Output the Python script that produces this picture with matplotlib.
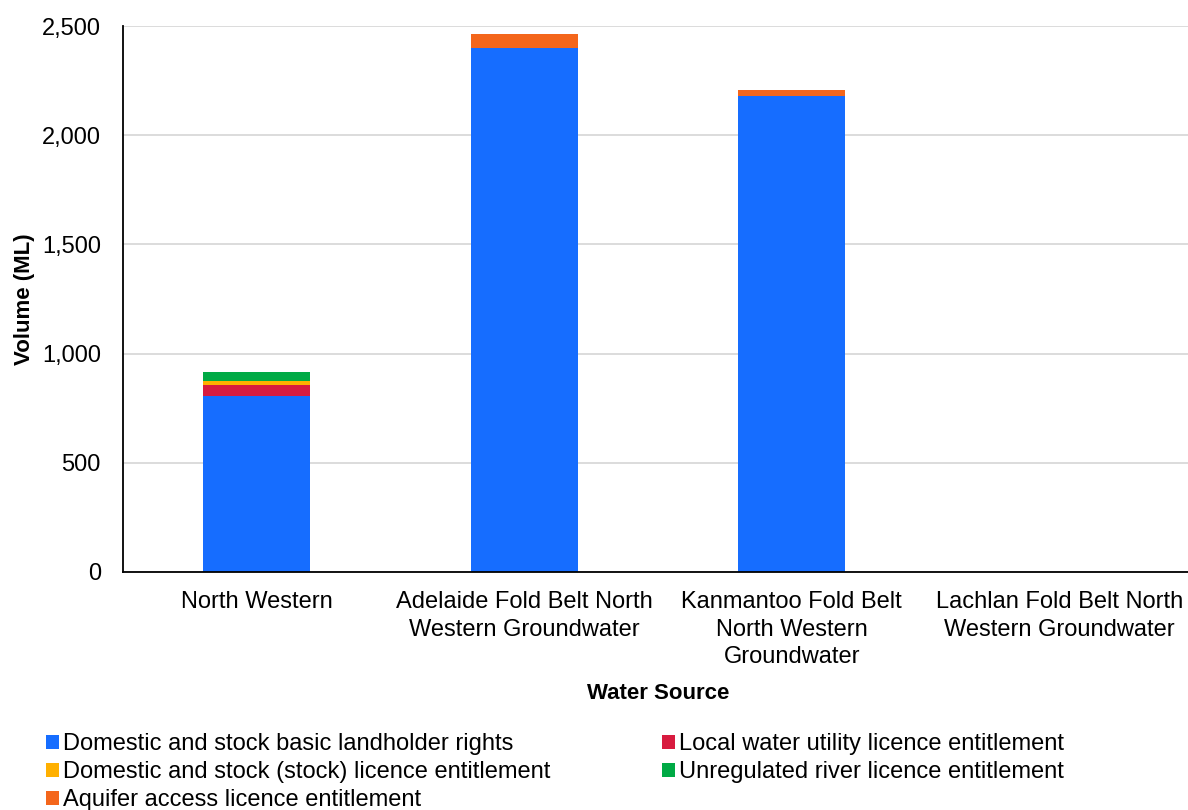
import matplotlib.pyplot as plt
import numpy as np
from matplotlib.ticker import FuncFormatter

plt.rcParams["font.family"] = ["Liberation Sans", "DejaVu Sans"]

categories = ["North Western",
              "Adelaide Fold Belt North\nWestern Groundwater",
              "Kanmantoo Fold Belt\nNorth Western\nGroundwater",
              "Lachlan Fold Belt North\nWestern Groundwater"]
series_names = ["Domestic and stock basic landholder rights",
                "Local water utility licence entitlement",
                "Domestic and stock (stock) licence entitlement",
                "Unregulated river licence entitlement",
                "Aquifer access licence entitlement"]
basic_rights = [805, 2400, 2180, 0]
local_utility = [50, 0, 0, 0]
stock_licence = [20, 0, 0, 0]
unregulated = [40, 0, 0, 0]
aquifer = [0, 65, 25, 0]
colors = ["#166dff", "#d81b3f", "#ffb000", "#00aa45", "#f4661b"]

series = [basic_rights, local_utility, stock_licence, unregulated, aquifer]

fig = plt.figure(figsize=(11.88, 8.10), dpi=100)
ax = fig.add_axes([123 / 1188, 1 - 572 / 810, (1193 - 123) / 1188, (572 - 26) / 810])

x = np.arange(len(categories))
bottom = np.zeros(len(categories))
handles = []
for name, vals, c in zip(series_names, series, colors):
    b = ax.bar(x, vals, 0.4, bottom=bottom, color=c, label=name, zorder=3)
    handles.append(b)
    bottom += np.array(vals)

ax.set_xlim(-0.5, 3.5)
ax.set_ylim(0, 2500)
ax.set_yticks(np.arange(0, 2501, 500))
ax.yaxis.set_major_formatter(FuncFormatter(lambda v, p: f"{int(v):,}"))
ax.grid(axis="y", color="#d9d9d9", linewidth=1.3, zorder=0)
ax.set_xticks(x)
ax.set_xticklabels(categories, fontsize=17, linespacing=1.3)
ax.tick_params(axis="x", length=0, labelsize=17, pad=14)
ax.tick_params(axis="y", length=0, labelsize=17, pad=16)
for s in ["top", "right"]:
    ax.spines[s].set_visible(False)
ax.spines["left"].set_linewidth(1.3)
ax.spines["bottom"].set_linewidth(1.3)
ax.spines["left"].set_zorder(4)
ax.spines["bottom"].set_zorder(4)

ax.set_ylabel("Volume (ML)", fontsize=16, fontweight="bold", labelpad=5)
ax.set_xlabel("Water Source", fontsize=16, fontweight="bold", labelpad=11)

# row-major legend order, as in the reference
order = [0, 2, 4, 1, 3]
leg = fig.legend(handles=[handles[i] for i in order],
                 labels=[series_names[i] for i in order], ncol=2, loc="upper left",
                 bbox_to_anchor=(0.039, 0.095), frameon=False, fontsize=17,
                 handlelength=0.55, handleheight=0.55, handletextpad=0.15,
                 columnspacing=4.75, labelspacing=0.26, borderaxespad=0,
                 borderpad=0)

fig.savefig("out.png", dpi=100)
